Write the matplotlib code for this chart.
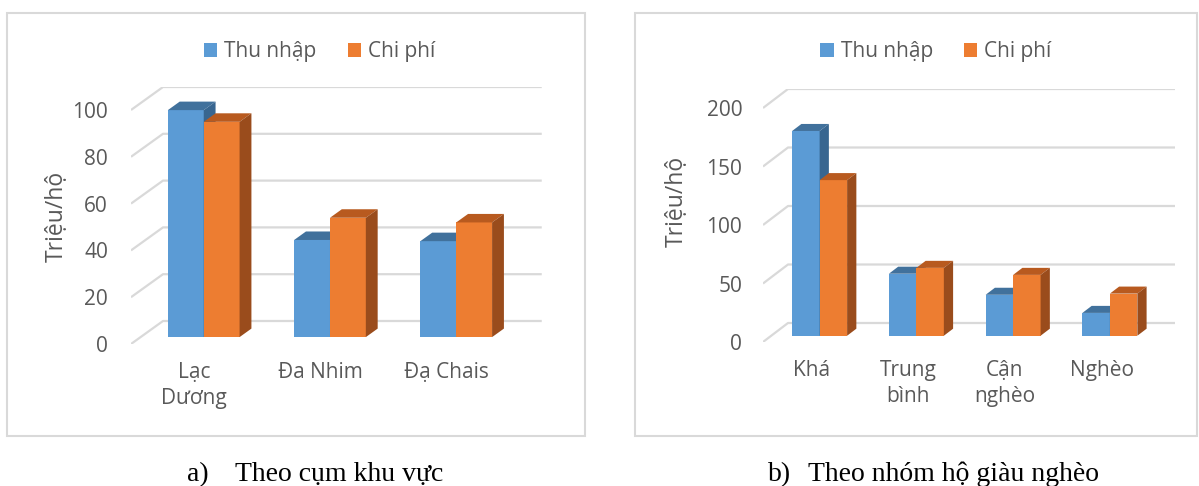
import matplotlib.pyplot as plt
from matplotlib.patches import Polygon, Rectangle, Patch

# Income / cost per household (million VND)
area_names = ['Lạc\nDương', 'Đa Nhim', 'Đạ Chais']
area_income = [97, 41.5, 41]
area_cost = [92, 51, 49]
area_ticks = [0, 20, 40, 60, 80, 100]

group_names = ['Khá', 'Trung\nbình', 'Cận\nnghèo', 'Nghèo']
group_income = [175, 53, 35, 19.5]
group_cost = [133, 58, 52, 36]
group_ticks = [0, 50, 100, 150, 200]

series_names = ['Thu nhập', 'Chi phí']
captions = [('a)', 'Theo cụm khu vực'), ('b)', 'Theo nhóm hộ giàu nghèo')]

W, H = 1199, 486
TXT = '#595959'
GRID = '#d9d9d9'
FRONT = ['#5b9bd5', '#ed7d31']
TOP = ['#41719c', '#b85a1f']
SIDE = ['#386690', '#9a4c1c']

plt.rcParams['font.family'] = ['Open Sans', 'DejaVu Sans']

fig = plt.figure(figsize=(W / 100, H / 100), dpi=100)


def panel(names, series, ticks, left_px, zero_px, step_px, ppu, dx_px, dy_px, f, label_pad):
    n = len(names)
    top_val = ticks[-1]
    xlim = (-0.5, n - 0.5 + dx_px / step_px)
    ylim = (0, top_val + dy_px / ppu)
    wpx = (xlim[1] - xlim[0]) * step_px
    hpx = (ylim[1] - ylim[0]) * ppu
    ax = fig.add_axes([left_px / W, (H - zero_px) / H, wpx / W, hpx / H])
    ax.set_xlim(*xlim)
    ax.set_ylim(*ylim)
    DX = dx_px / step_px
    DY = dy_px / ppu

    # side wall + back wall gridlines
    for v in ticks:
        ax.plot([-0.5, -0.5 + DX, n - 0.5 + DX], [v, v + DY, v + DY],
                color=GRID, lw=1.6, solid_capstyle='butt', zorder=1)

    w = 0.284
    d = 0.37
    for s, vals in enumerate(series):
        xs = [i - w + s * w + f * DX for i in range(n)]
        ax.bar(xs, vals, width=w, bottom=f * DY, align='edge',
               color=FRONT[s], linewidth=0, zorder=3 + s)
        for x, h in zip(xs, vals):
            y0 = f * DY
            top = [(x, y0 + h), (x + w, y0 + h),
                   (x + w + d * DX, y0 + h + d * DY), (x + d * DX, y0 + h + d * DY)]
            side = [(x + w, y0), (x + w + d * DX, y0 + d * DY),
                    (x + w + d * DX, y0 + h + d * DY), (x + w, y0 + h)]
            ax.add_patch(Polygon(top, closed=True, fc=TOP[s], ec='none', zorder=3 + s))
            ax.add_patch(Polygon(side, closed=True, fc=SIDE[s], ec='none', zorder=3 + s))

    for sp in ax.spines.values():
        sp.set_visible(False)
    ax.set_yticks(ticks)
    ax.set_xticks(range(n))
    ax.set_xticklabels(names, linespacing=1.3)
    ax.tick_params(axis='y', length=0, pad=label_pad, labelsize=15, labelcolor=TXT)
    ax.tick_params(axis='x', length=0, pad=13, labelsize=15, labelcolor=TXT)
    ax.patch.set_visible(False)
    return ax


panel(area_names, [area_income, area_cost], area_ticks,
      131, 344, 126.25, 2.34, 32, 23, 0.30, 16.5)
panel(group_names, [group_income, group_cost], group_ticks,
      763, 342, 96.75, 1.17, 25, 19, 0.33, 15)

# chart frames
for x0, x1 in [(7, 585), (635, 1197)]:
    fig.patches.append(Rectangle((x0 / W, 1 - 436 / H), (x1 - x0) / W, (436 - 13) / H,
                                 transform=fig.transFigure, fill=False,
                                 ec=GRID, lw=1.5))

# y axis titles
fig.text(57 / W, 1 - 216 / H, 'Triệu/hộ', rotation=90, ha='center', va='center',
         fontsize=16.5, color=TXT)
fig.text(677 / W, 1 - 201 / H, 'Triệu/hộ', rotation=90, ha='center', va='center',
         fontsize=16.5, color=TXT)

# legends
handles = [Patch(fc=FRONT[0], ec='none'), Patch(fc=FRONT[1], ec='none')]
for cx in [319.5, 936]:
    fig.legend(handles, series_names, loc='center', bbox_to_anchor=(cx / W, 1 - 52 / H),
               ncol=2, frameon=False, fontsize=15, labelcolor=TXT,
               handlelength=0.63, handleheight=0.63, handletextpad=0.34,
               columnspacing=1.5, borderpad=0)

# captions below each chart
for (tag, text), xt, xs in zip(captions, [187, 768], [235, 808]):
    fig.text(xt / W, 1 - 481 / H, tag, ha='left', va='baseline',
             family='Liberation Serif', fontsize=20, color='black')
    fig.text(xs / W, 1 - 481 / H, text, ha='left', va='baseline',
             family='Liberation Serif', fontsize=20, color='black')

fig.savefig('out.png', dpi=100)
